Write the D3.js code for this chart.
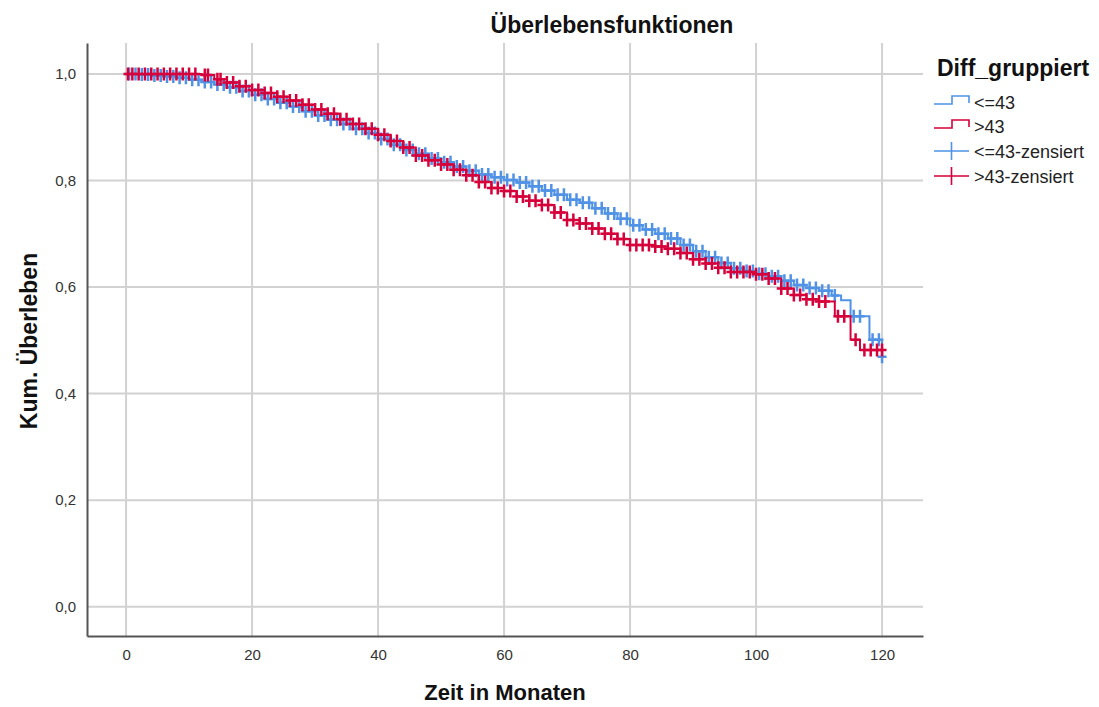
<!DOCTYPE html>
<html>
<head>
<meta charset="utf-8">
<script src="https://cdn.jsdelivr.net/npm/d3@7"></script>
<style>
  body { margin: 0; background: #fff; }
  text { font-family: "Liberation Sans", Arial, sans-serif; }
</style>
</head>
<body>
<div id="container"></div>
<script>
let w = 1099;
let h = 707;

// plot frame
let plotLeft = 87, plotRight = 923, plotTop = 43, plotBottom = 636;

// ---- data ----
let groups = ["<=43", ">43"];
let groupColors = ["#4f92e6", "#d6003a"];

// group <=43 : event times and survival after each step
let timesLow = [0, 2, 4, 6, 8, 10, 12, 14, 16, 18, 20, 22, 24, 26, 28, 30, 32, 34, 36, 38, 40,
  42, 44, 46, 48, 50, 52, 54, 56, 58, 60, 62, 64, 66, 68, 70, 72, 74, 76, 78, 80,
  82, 84, 86, 88, 90, 92, 94, 96, 98, 100, 102, 104, 106, 108, 110, 112, 113.5, 115, 118, 120];
let survLow = [1.0, 0.999, 0.997, 0.995, 0.993, 0.989, 0.985, 0.980, 0.975, 0.968, 0.961, 0.953, 0.946, 0.939, 0.930, 0.922, 0.914, 0.906, 0.897, 0.889, 0.878,
  0.867, 0.857, 0.850, 0.841, 0.834, 0.826, 0.818, 0.811, 0.806, 0.801, 0.796, 0.789, 0.781, 0.773, 0.764, 0.758, 0.748, 0.738, 0.728, 0.716,
  0.708, 0.700, 0.691, 0.679, 0.667, 0.656, 0.645, 0.635, 0.630, 0.625, 0.620, 0.612, 0.604, 0.598, 0.593, 0.584, 0.575, 0.545, 0.501, 0.469];

// group >43
let timesHigh = [0, 12, 14, 16, 18, 20, 22, 24, 26, 28, 30, 32, 34, 36, 38, 40,
  42, 44, 46, 48, 50, 52, 54, 56, 58, 60, 62, 64, 66, 68, 70, 72, 74, 76, 78, 80,
  84, 86, 88, 90, 92, 94, 96, 100, 102, 104, 106, 108, 110, 112.5, 115, 116.5, 120];
let survHigh = [1.0, 0.998, 0.990, 0.984, 0.977, 0.970, 0.964, 0.957, 0.950, 0.942, 0.933, 0.925, 0.915, 0.906, 0.897, 0.886,
  0.874, 0.862, 0.847, 0.838, 0.830, 0.820, 0.810, 0.797, 0.786, 0.780, 0.770, 0.762, 0.754, 0.740, 0.726, 0.719, 0.710, 0.700, 0.690, 0.679,
  0.676, 0.672, 0.664, 0.652, 0.644, 0.636, 0.628, 0.624, 0.616, 0.597, 0.585, 0.577, 0.573, 0.545, 0.501, 0.482, 0.482];

// censored times
let censLow = [0.5, 1.5, 2.5, 3.5, 4.5, 5.5, 6.5, 7.5, 8.5, 9.5, 10.5, 11.5, 12.5, 13.5, 14.5, 15.5, 16.5, 17.5, 18.5, 19.5,
  20.5, 21.5, 22.5, 23.5, 24.5, 25.5, 26.5, 27.5, 28.5, 29.5, 30.5, 31.5, 32.5, 33.5, 34.5, 35.5, 36.5, 37.5, 38.5, 39.5,
  40.5, 41.5, 42.5, 43.5, 44.5, 45.5, 46.5, 47.5, 48.5, 49.5, 50.5, 51.5, 52.5, 53.5, 54.5, 55.5, 56.5, 57.5, 58.5, 59.5,
  60.5, 61.5, 62.5, 63.5, 64.5, 65.5, 66.5, 67.5, 68.5, 69.5, 70.5, 71.5, 72.5, 73.5, 74.5, 75.5, 76.5, 77.5, 78.5, 79.5,
  80.5, 81.5, 82.5, 83.5, 84.5, 85.5, 86.5, 87.5, 88.5, 89.5, 90.5, 91.5, 92.5, 93.5, 94.5, 95.5, 96.5, 97.5, 98.5, 99.5,
  100.5, 101.5, 102.5, 103.5, 104.5, 105.5, 106.5, 107.5, 108.5, 109.5, 110.5, 111.5, 112.5, 115.5, 116.5, 118.5, 119.5, 120];
let censHigh = [0.3, 1, 2, 3, 4, 5, 6, 7, 8, 9, 10, 11, 12.5, 13, 14.5, 15, 16, 17, 18, 19, 20, 21, 22, 23, 24, 25, 26, 27, 28, 29,
  30, 31, 32, 33, 34, 35, 36, 37, 38, 39, 40, 41, 42, 43, 44, 45, 46, 47, 48, 49, 50, 51, 52, 53, 54, 55, 56, 57, 58, 59,
  60, 61, 62, 63, 64, 65, 66, 67, 68, 69, 70, 71, 72, 73, 74, 75, 76, 77, 78, 79, 80, 81, 82, 83, 84, 85, 86, 87, 88, 89,
  90, 91, 92, 93, 94, 95, 96, 97, 98, 99, 100, 101, 102, 103, 104, 105, 106, 107, 108, 109, 110, 111, 113, 114, 115.8,
  117.2, 118.2, 119.2, 120];

let xTicks = [0, 20, 40, 60, 80, 100, 120];
let yTicks = [0, 0.2, 0.4, 0.6, 0.8, 1.0];

// ---- svg ----
let viz = d3.select("#container").append("svg")
    .attr("width", w)
    .attr("height", h)
    .style("background-color", "white");

let xScale = d3.scaleLinear().domain([-6.2, 126.5]).range([plotLeft, plotRight]);
let yScale = d3.scaleLinear().domain([-0.055, 1.058]).range([plotBottom, plotTop]);

// grid
viz.append("g").selectAll("line").data(xTicks).enter().append("line")
    .attr("x1", d => xScale(d)).attr("x2", d => xScale(d))
    .attr("y1", plotTop).attr("y2", plotBottom)
    .attr("stroke", "#d2d2d2").attr("stroke-width", 2);
viz.append("g").selectAll("line").data(yTicks).enter().append("line")
    .attr("x1", plotLeft).attr("x2", plotRight)
    .attr("y1", d => yScale(d)).attr("y2", d => yScale(d))
    .attr("stroke", "#d2d2d2").attr("stroke-width", 2);

// axes
let fmt = d3.format(".1f");
let xAxis = d3.axisBottom(xScale).tickValues(xTicks).tickSize(0).tickPadding(13);
let xAxisGroup = viz.append("g").attr("transform", "translate(0," + plotBottom + ")").call(xAxis);
xAxisGroup.select(".domain").attr("stroke", "#555").attr("stroke-width", 2);
xAxisGroup.selectAll("text").attr("font-size", 15).attr("fill", "#333")
    .style("font-family", "'Liberation Sans', Arial, sans-serif");

let yAxis = d3.axisLeft(yScale).tickValues(yTicks).tickSize(0).tickPadding(0)
    .tickFormat(d => fmt(d).replace(".", ","));
let yAxisGroup = viz.append("g").attr("transform", "translate(" + plotLeft + ",0)").call(yAxis);
yAxisGroup.select(".domain").attr("stroke", "#555").attr("stroke-width", 2);
yAxisGroup.selectAll("text").attr("font-size", 15).attr("fill", "#333").attr("x", -11)
    .style("font-family", "'Liberation Sans', Arial, sans-serif");

// titles
viz.append("text").attr("x", 612).attr("y", 33).attr("text-anchor", "middle")
    .attr("font-size", 23).attr("font-weight", "bold").attr("fill", "#111")
    .text("Überlebensfunktionen");
viz.append("text").attr("x", 505).attr("y", 700).attr("text-anchor", "middle")
    .attr("font-size", 22).attr("font-weight", "bold").attr("fill", "#111")
    .text("Zeit in Monaten");
viz.append("text").attr("transform", "translate(37,341) rotate(-90)").attr("text-anchor", "middle")
    .attr("font-size", 23).attr("font-weight", "bold").attr("fill", "#111")
    .text("Kum. Überleben");

// curves
let series = [
  {times: timesLow, surv: survLow, cens: censLow, color: groupColors[0]},
  {times: timesHigh, surv: survHigh, cens: censHigh, color: groupColors[1]}
];

let line = d3.line().x(d => xScale(d[0])).y(d => yScale(d[1])).curve(d3.curveStepAfter);

function survAt(s, t) {
  let i = d3.bisectRight(s.times, t) - 1;
  return s.surv[Math.max(0, i)];
}

let cross = "M-4.5,0H4.5M0,-6.5V6.5";

series.forEach(function(s) {
  let pts = s.times.map((t, i) => [t, s.surv[i]]);
  let g = viz.append("g");
  g.append("path").attr("d", line(pts))
      .attr("fill", "none").attr("stroke", s.color).attr("stroke-width", 2);
  g.selectAll(".cens").data(s.cens).enter().append("path")
      .attr("class", "cens")
      .attr("transform", d => "translate(" + xScale(d) + "," + yScale(survAt(s, d)) + ")")
      .attr("d", cross)
      .attr("fill", "none").attr("stroke", s.color).attr("stroke-width", 2.5);
});

// legend
let legend = viz.append("g");
legend.append("text").attr("x", 937).attr("y", 76)
    .attr("font-size", 23).attr("font-weight", "bold").attr("fill", "#111")
    .text("Diff_gruppiert");
let legendItems = [
  {label: groups[0], color: groupColors[0], kind: "step"},
  {label: groups[1], color: groupColors[1], kind: "step"},
  {label: groups[0] + "-zensiert", color: groupColors[0], kind: "cross"},
  {label: groups[1] + "-zensiert", color: groupColors[1], kind: "cross"}
];
let rowY = [103, 127, 152, 177];
legendItems.forEach(function(it, i) {
  let y = rowY[i];
  if (it.kind === "step") {
    legend.append("path").attr("d", "M934," + (y + 1) + "H952V" + (y - 7) + "H969V" + y)
        .attr("fill", "none").attr("stroke", it.color).attr("stroke-width", 1.6);
  } else {
    legend.append("path").attr("d", "M934," + (y - 1) + "H969M951.5," + (y - 10) + "V" + (y + 8))
        .attr("fill", "none").attr("stroke", it.color).attr("stroke-width", 1.6);
  }
  legend.append("text").attr("x", 974).attr("y", y + 6)
      .attr("font-size", 18).attr("fill", "#222")
      .text(it.label);
});
</script>
</body>
</html>
